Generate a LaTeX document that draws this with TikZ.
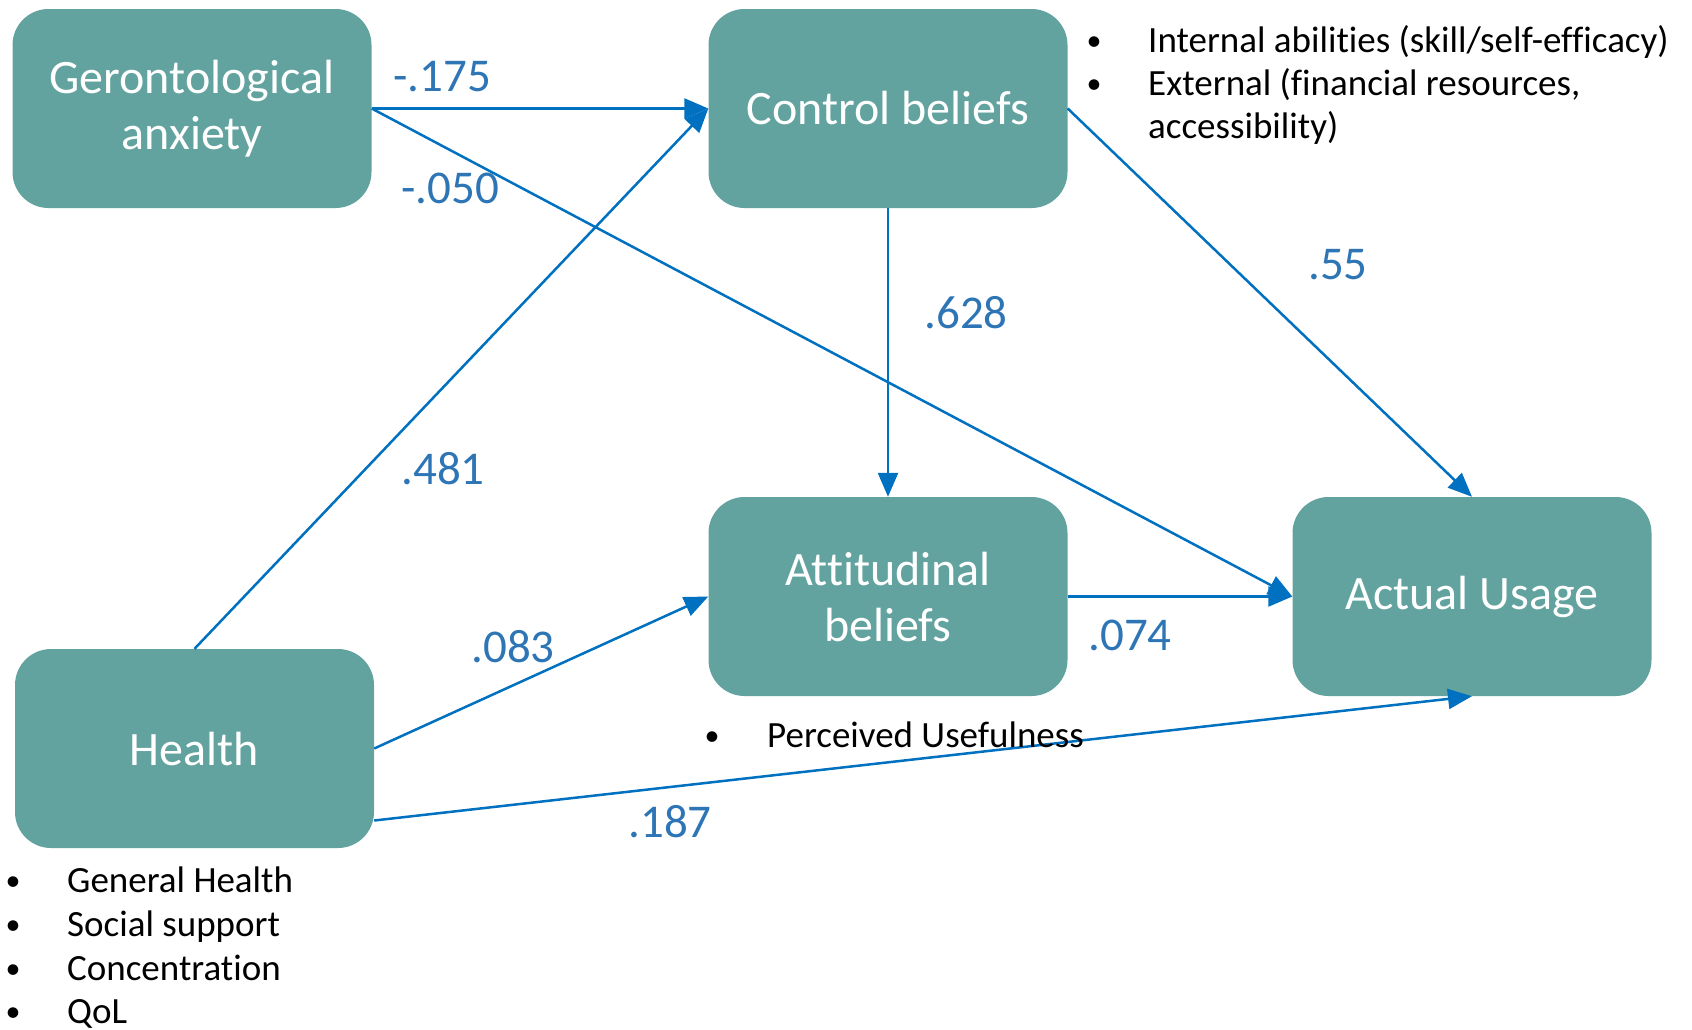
\documentclass[tikz,border=0pt]{standalone}
\usepackage{fontspec}
\setmainfont[Ligatures={NoCommon,NoContextual,NoRequired},RawFeature={-ccmp;-dlig}]{Carlito}
\usetikzlibrary{arrows.meta}
\definecolor{boxfill}{RGB}{98,163,159}
\definecolor{arrowblue}{RGB}{0,112,192}
\definecolor{labelblue}{RGB}{46,117,182}
\tikzset{
  box/.style={draw=none, fill=boxfill, rounded corners=36pt, minimum width=359pt, minimum height=199pt,
    text=white, align=center, font=\fontsize{48}{56}\selectfont, inner sep=0pt},
  conn/.style={draw=arrowblue, line width=2.5pt, -{Triangle[length=24pt,width=20pt]}},
  coef/.style={text=labelblue, font=\fontsize{47}{54}\selectfont, inner sep=0pt},
  bultext/.style={anchor=base west, font=\fontsize{37}{43}\selectfont, inner sep=0pt, text=black},
  bulmark/.style={anchor=base, font=\fontsize{30}{43}\selectfont, inner sep=0pt, text=black}
}
\begin{document}
\begin{tikzpicture}[x=1pt,y=-1pt]
\useasboundingbox (0,0) rectangle (1692,1029);
% boxes
\node[box] (ga) at (192,108.5) {Gerontological\\anxiety};
\node[box] (cb) at (888,108.5) {Control beliefs};
\node[box] (ab) at (888,596.5) {Attitudinal\\beliefs};
\node[box] (au) at (1472,596.5) {Actual Usage};
\node[box] (h) at (194.5,748.5) {Health};
% connectors
\draw[conn] (ga.east) -- (cb.west);
\draw[conn] (ga.east) -- (au.west);
\draw[conn] (h.north) -- (cb.west);
\draw[conn] (cb.south) -- (ab.north);
\draw[conn] (cb.east) -- (au.north);
\draw[conn] (ab.east) -- (au.west);
\draw[conn] (h.east) -- (ab.west);
\draw[conn] ([yshift=-72pt]h.east) -- (au.south);
% coefficients
\node[coef] (c1) at (442,77) {-.175};
\node[coef] (c2) at (450,188) {-.050};
\node[coef] (c3) at (443,469) {.481};
\node[coef] (c4) at (966,313) {.628};
\node[coef] (c5) at (1338,265) {.55};
\node[coef] (c6) at (513,647) {.083};
\node[coef] (c7) at (1130,635) {.074};
\node[coef] (c8) at (670,822) {.187};
% control beliefs bullets
\node[bulmark] (b1) at (1094,50) {•};
\node[bultext] (t1) at (1148,52) {Internal abilities (skill/self-efficacy)};
\node[bulmark] (b2) at (1094,93) {•};
\node[bultext] (t2) at (1148,95) {External (financial resources,};
\node[bultext] (t3) at (1148,138) {accessibility)};
% attitudinal bullet
\node[bulmark] (b3) at (712,745) {•};
\node[bultext] (t4) at (767,747) {Perceived Usefulness};
% health bullets
\node[bulmark] (b4) at (13,890) {•};
\node[bultext] (t5) at (67,892) {General Health};
\node[bulmark] (b5) at (13,934) {•};
\node[bultext] (t6) at (67,936) {Social support};
\node[bulmark] (b6) at (13,978) {•};
\node[bultext] (t7) at (67,980) {Concentration};
\node[bulmark] (b7) at (13,1021) {•};
\node[bultext] (t8) at (67,1023) {QoL};
\end{tikzpicture}
\end{document}
